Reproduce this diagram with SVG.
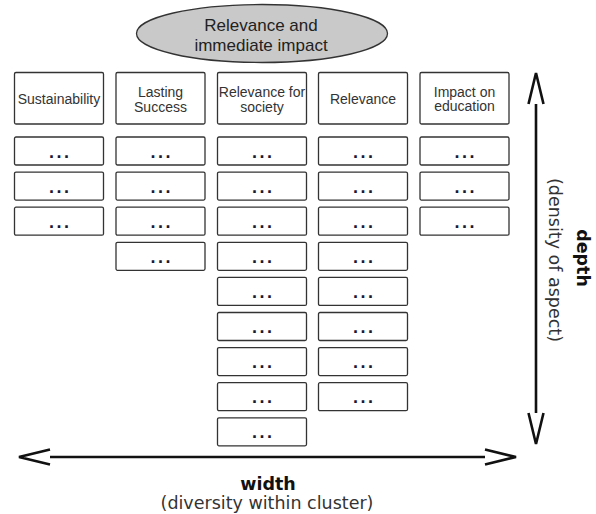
<svg xmlns="http://www.w3.org/2000/svg" width="596" height="514" viewBox="0 0 596 514">
<style>
.box{fill:#fff;stroke:#333;stroke-width:1.3}
.hd{font-family:"Liberation Sans",Arial,sans-serif;font-size:14px;fill:#333;text-anchor:middle}
.dots{font-family:"Liberation Sans",Arial,sans-serif;font-size:18px;font-weight:bold;fill:#1a1a33;text-anchor:middle;letter-spacing:2.5px}
.top{font-family:"Liberation Sans",Arial,sans-serif;font-size:17px;fill:#222;text-anchor:middle}
.ax{font-family:"DejaVu Sans",sans-serif;font-size:17.5px;fill:#333;text-anchor:middle}
.axb{font-family:"DejaVu Sans",sans-serif;font-size:17.5px;font-weight:bold;fill:#111;text-anchor:middle}
.arr{fill:none;stroke:#111;stroke-width:2.6}
</style>
<defs>
<marker id="chev" markerUnits="userSpaceOnUse" markerWidth="40" markerHeight="20" refX="0" refY="8" orient="auto-start-reverse" overflow="visible">
<path d="M0,0.5 L31,8 L0,15.5" fill="none" stroke="#111" stroke-width="2.6"/>
</marker>
<rect id="db" width="89" height="28" rx="1.5" class="box"/>
</defs>
<g id="cluster">
<ellipse cx="262" cy="33.5" rx="125.5" ry="29" fill="#c9c9c9" stroke="#333" stroke-width="1.3"/>
<text class="top" x="261" y="30.5">Relevance and</text>
<text class="top" x="261" y="50.5">immediate impact</text>
</g>
<g id="col-sustainability">
<rect class="box" x="14.5" y="72.5" width="89" height="51.5" rx="1.5"/>
<text class="hd" x="59" y="103.5">Sustainability</text>
<use href="#db" x="14.5" y="137"/><text class="dots" x="60.25" y="157.5">...</text>
<use href="#db" x="14.5" y="172.1"/><text class="dots" x="60.25" y="192.6">...</text>
<use href="#db" x="14.5" y="207.2"/><text class="dots" x="60.25" y="227.7">...</text>
</g>
<g id="col-lasting-success">
<rect class="box" x="116" y="72.5" width="89" height="51.5" rx="1.5"/>
<text class="hd" x="160.5" y="96.5">Lasting</text>
<text class="hd" x="160.5" y="111.5">Success</text>
<use href="#db" x="116" y="137"/><text class="dots" x="161.75" y="157.5">...</text>
<use href="#db" x="116" y="172.1"/><text class="dots" x="161.75" y="192.6">...</text>
<use href="#db" x="116" y="207.2"/><text class="dots" x="161.75" y="227.7">...</text>
<use href="#db" x="116" y="242.3"/><text class="dots" x="161.75" y="262.8">...</text>
</g>
<g id="col-relevance-society">
<rect class="box" x="217.5" y="72.5" width="89" height="51.5" rx="1.5"/>
<text class="hd" x="262" y="96.5">Relevance for</text>
<text class="hd" x="262" y="111.5">society</text>
<use href="#db" x="217.5" y="137"/><text class="dots" x="263.25" y="157.5">...</text>
<use href="#db" x="217.5" y="172.1"/><text class="dots" x="263.25" y="192.6">...</text>
<use href="#db" x="217.5" y="207.2"/><text class="dots" x="263.25" y="227.7">...</text>
<use href="#db" x="217.5" y="242.3"/><text class="dots" x="263.25" y="262.8">...</text>
<use href="#db" x="217.5" y="277.4"/><text class="dots" x="263.25" y="297.9">...</text>
<use href="#db" x="217.5" y="312.5"/><text class="dots" x="263.25" y="333">...</text>
<use href="#db" x="217.5" y="347.6"/><text class="dots" x="263.25" y="368.1">...</text>
<use href="#db" x="217.5" y="382.7"/><text class="dots" x="263.25" y="403.2">...</text>
<use href="#db" x="217.5" y="417.8"/><text class="dots" x="263.25" y="438.3">...</text>
</g>
<g id="col-relevance">
<rect class="box" x="318.5" y="72.5" width="89" height="51.5" rx="1.5"/>
<text class="hd" x="363" y="103.5">Relevance</text>
<use href="#db" x="318.5" y="137"/><text class="dots" x="364.25" y="157.5">...</text>
<use href="#db" x="318.5" y="172.1"/><text class="dots" x="364.25" y="192.6">...</text>
<use href="#db" x="318.5" y="207.2"/><text class="dots" x="364.25" y="227.7">...</text>
<use href="#db" x="318.5" y="242.3"/><text class="dots" x="364.25" y="262.8">...</text>
<use href="#db" x="318.5" y="277.4"/><text class="dots" x="364.25" y="297.9">...</text>
<use href="#db" x="318.5" y="312.5"/><text class="dots" x="364.25" y="333">...</text>
<use href="#db" x="318.5" y="347.6"/><text class="dots" x="364.25" y="368.1">...</text>
<use href="#db" x="318.5" y="382.7"/><text class="dots" x="364.25" y="403.2">...</text>
</g>
<g id="col-impact-education">
<rect class="box" x="420" y="72.5" width="89" height="51.5" rx="1.5"/>
<text class="hd" x="464.5" y="96.5">Impact on</text>
<text class="hd" x="464.5" y="111">education</text>
<use href="#db" x="420" y="137"/><text class="dots" x="465.75" y="157.5">...</text>
<use href="#db" x="420" y="172.1"/><text class="dots" x="465.75" y="192.6">...</text>
<use href="#db" x="420" y="207.2"/><text class="dots" x="465.75" y="227.7">...</text>
</g>
<g id="connectors">
<line class="arr" x1="50" y1="457" x2="485" y2="457" marker-start="url(#chev)" marker-end="url(#chev)"/>
<line class="arr" x1="536" y1="104" x2="536" y2="413" marker-start="url(#chev)" marker-end="url(#chev)"/>
</g>
<g id="axis-labels">
<text class="axb" x="268" y="490">width</text>
<text class="ax" x="267" y="509">(diversity within cluster)</text>
<text class="axb" transform="translate(577,258) rotate(90)">depth</text>
<text class="ax" transform="translate(549,260) rotate(90)">(density of aspect)</text>
</g>
</svg>
